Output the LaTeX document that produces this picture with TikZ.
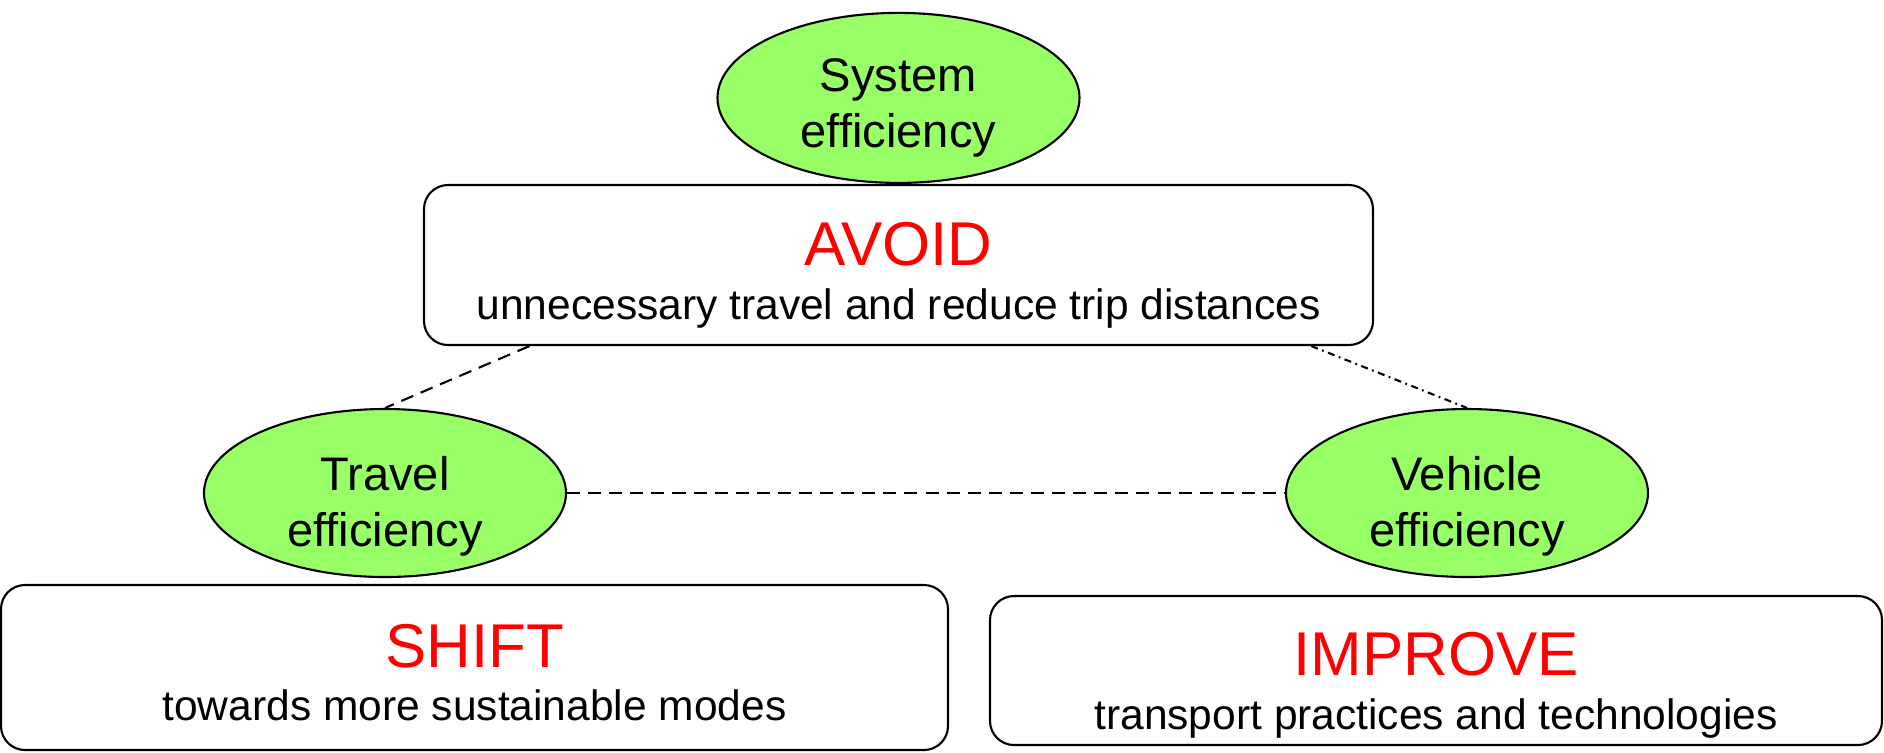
\documentclass[tikz,border=0pt]{standalone}
\usepackage{fontspec}
\setmainfont{Liberation Sans}
\usetikzlibrary{positioning,calc,shapes.geometric}
\definecolor{effgreen}{HTML}{99FF66}
\definecolor{asired}{HTML}{FF0000}
\newcommand{\asititle}[1]{{\color{asired}\fontsize{17.6}{20}\selectfont #1}}

\begin{document}
\begin{tikzpicture}[
  effell/.style={ellipse,draw,fill=effgreen,line width=0.6pt,minimum width=3.62cm,minimum height=1.70cm,inner sep=0pt},
  efftext/.style={align=center,inner sep=0pt,font=\fontsize{13.4}{16}\selectfont},
  asibox/.style={draw,rounded corners=0.24cm,line width=0.6pt,inner sep=0pt},
  asitext/.style={align=center,inner sep=0pt,font=\fontsize{12.1}{15.3}\selectfont},
  dashlink/.style={line width=0.6pt,dash pattern=on 3.7pt off 2.3pt},
  dotlink/.style={line width=0.6pt,dash pattern=on 2pt off 1.3pt on 0.5pt off 1.3pt}]
  \useasboundingbox (0,0) rectangle (18.84,-7.52);
  % boxes and ellipses
  \node[asibox,minimum width=9.49cm,minimum height=1.60cm] (avoid) at (8.985,-2.65) {};
  \node[effell,above=0pt of avoid] (sys) {};
  \node[effell,minimum height=1.68cm] (travel) at (3.85,-4.93) {};
  \node[effell,minimum height=1.68cm] (vehicle) at (14.67,-4.93) {};
  \node[asibox,minimum width=9.47cm,minimum height=1.65cm] (shift) at (4.745,-6.675) {};
  \node[asibox,minimum width=8.92cm,minimum height=1.49cm] (improve) at (14.36,-6.705) {};
  % texts
  \node[asitext] (avoid-txt) at ([yshift=-0.10cm]avoid.center) {\asititle{AVOID}\\unnecessary travel and reduce trip distances};
  \node[efftext] (sys-txt) at ([yshift=-0.10cm]sys.center) {System\\efficiency};
  \node[efftext] (travel-txt) at ([yshift=-0.13cm]travel.center) {Travel\\efficiency};
  \node[efftext] (vehicle-txt) at ([yshift=-0.13cm]vehicle.center) {Vehicle\\efficiency};
  \node[asitext] (shift-txt) at ([yshift=-0.05cm]shift.center) {\asititle{SHIFT}\\towards more sustainable modes};
  \node[asitext] (improve-txt) at ([yshift=-0.15cm]improve.center) {\asititle{IMPROVE}\\transport practices and technologies};
  % links
  \draw[line width=0.6pt] (sys.south) -- (avoid.north);
  \draw[dashlink] ($(avoid.south west)!0.112!(avoid.south east)$) -- (travel.north);
  \draw[dotlink] ($(avoid.south west)!0.934!(avoid.south east)$) -- (vehicle.north);
  \draw[dashlink] (travel.east) -- (vehicle.west);
\end{tikzpicture}
\end{document}
